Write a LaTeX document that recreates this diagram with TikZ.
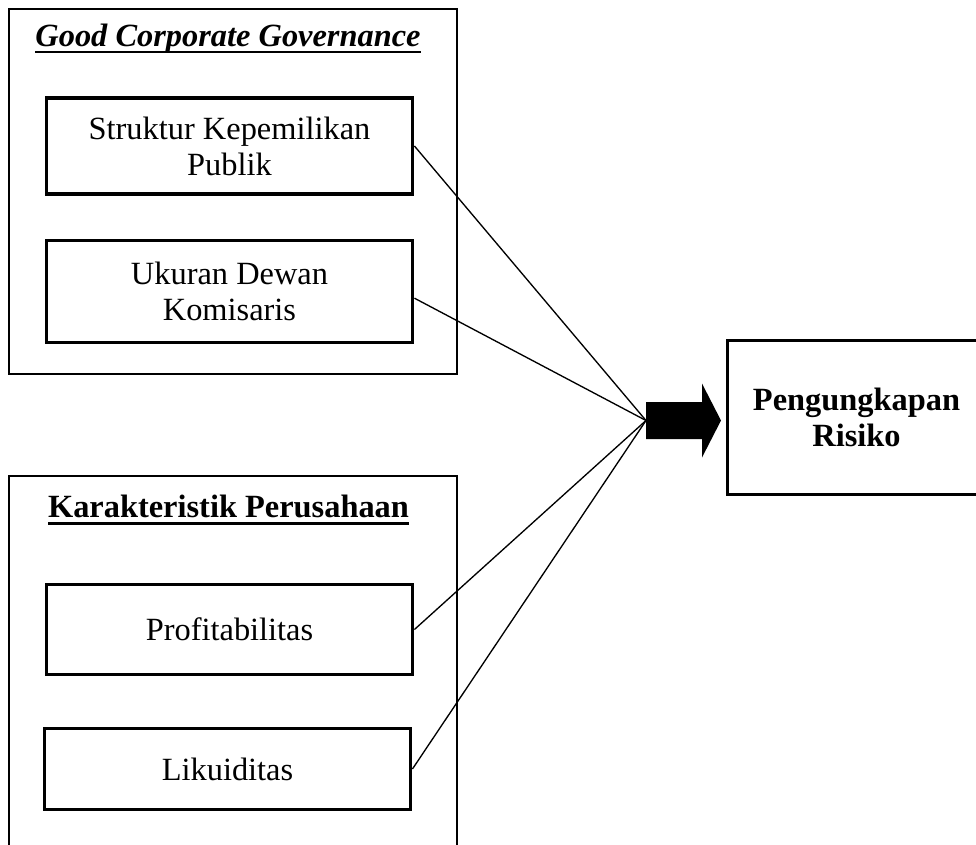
\documentclass[tikz,border=0pt]{standalone}
\usepackage{fontspec}
\setmainfont{Liberation Serif}
\usetikzlibrary{positioning}

\newcommand{\thickul}[1]{\setbox0\hbox{#1}\rlap{\vrule width\wd0 height -3.2pt depth 4.9pt}\box0}

\tikzset{
    varbox/.style={draw, line width=2.4pt, minimum width=275pt, align=center, inner sep=0pt},
    groupline/.style={line width=1.2pt},
    link/.style={line width=1pt}
}

\begin{document}
\begin{tikzpicture}[x=0.75pt, y=-0.75pt, font=\fontsize{24.3}{27}\selectfont]
                \useasboundingbox (0,0) rectangle (976,844);

                \draw[groupline] (9,9)   rectangle (457,374);
                \draw[groupline] (9,476) rectangle (457,900);

                \node (gcg)   at (228,39)    {\thickul{\textbf{\textit{Good Corporate Governance}}}};
                \node (karak) at (228.5,510) {\thickul{\textbf{Karakteristik Perusahaan}}};

                \node[varbox, minimum height=72pt] (kepemilikan) at (229.5,146)   {Struktur Kepemilikan\\Publik};
                \node[varbox, minimum height=76pt] (komisaris)   at (229.5,291.5) {Ukuran Dewan\\Komisaris};
                \node[varbox, minimum height=68pt] (profit)      at (229.5,629.5) {Profitabilitas};
                \node[varbox, minimum height=61pt] (likuid)      at (227.5,769)   {Likuiditas};

                \node[draw, line width=2.4pt, minimum width=193pt, minimum height=115pt, align=center, inner sep=0pt] (risiko) at (856.5,417.5) {\textbf{Pengungkapan}\\\textbf{Risiko}};

                % block arrow, tail at the hub
                \coordinate (hub) at (646,420.5);
                \fill (hub) ++(0,-18.5) -- ++(56,0) -- ++(0,-18.5) -- ++(19,37) -- ++(-19,37) -- ++(0,-18.5) -- ++(-56,0) -- cycle;

                \draw[link] (kepemilikan.east) -- (hub);
                \draw[link] ([yshift=-5pt]komisaris.east) -- (hub);
                \draw[link] (profit.east) -- (hub);
                \draw[link] (likuid.east) -- (hub);
\end{tikzpicture}
\end{document}
